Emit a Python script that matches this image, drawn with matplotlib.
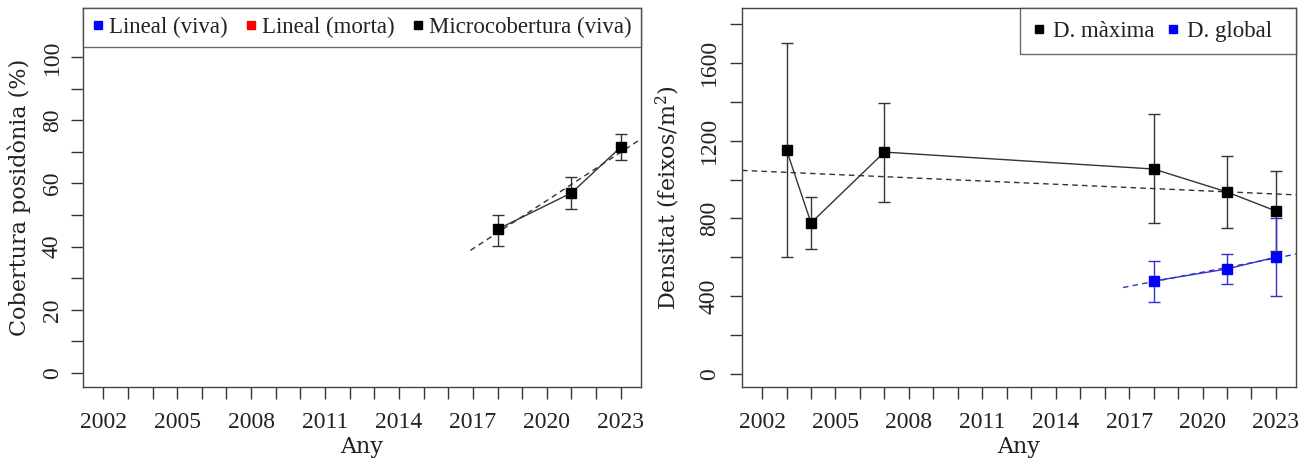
import numpy as np
import matplotlib.pyplot as plt
from matplotlib.lines import Line2D

plt.rcParams['mathtext.fontset'] = 'dejavuserif'

# eix x comú
anys = np.arange(2002, 2024)
etiquetes_any = [str(a) if (a - 2002) % 3 == 0 else '' for a in anys]

# Cobertura posidònia (%)
cob_any = [2018, 2021, 2023]
cob_micro = [45.5, 57, 71.5]
cob_micro_inf = [40.2, 52, 67.4]
cob_micro_sup = [50, 62, 75.6]

# Densitat (feixos/m2)
dmax_any = [2003, 2004, 2007, 2018, 2021, 2023]
dmax = [1152, 777, 1141, 1054, 936, 838]
dmax_inf = [602, 643, 884, 777, 751, 632]
dmax_sup = [1702, 910, 1393, 1337, 1121, 1044]

dglob_any = [2018, 2021, 2023]
dglob = [478, 540, 601]
dglob_inf = [370, 463, 401]
dglob_sup = [581, 617, 802]

XLIM = (2001.18, 2023.82)
TICKFONT = dict(family='Liberation Serif', size=17)
LABFONT = dict(family='DejaVu Serif', size=16)
LEGFONT = dict(family='Liberation Serif', size=16.5)


def serie(ax, x, y, lo, hi, col, col_lin, x_fit):
    x = np.array(x, dtype=float)
    y = np.array(y, dtype=float)
    err = [y - np.array(lo), np.array(hi) - y]
    ax.errorbar(x, y, yerr=err, fmt='none', ecolor=col_lin, elinewidth=1,
                capsize=4, capthick=1, zorder=2)
    ax.plot(x, y, color=col_lin, lw=1, zorder=2)
    a, b = np.polyfit(x, y, 1)
    xf = np.array(x_fit)
    ax.plot(xf, a * xf + b, color=col_lin, lw=1, ls=(0, (4, 3)), zorder=2)
    ax.plot(x, y, 's', color=col, ms=6.5, zorder=3)


def eixos(ax, yticks, ylabels, ylim):
    ax.set_xlim(XLIM)
    ax.set_ylim(ylim)
    ax.set_xticks(anys)
    ax.set_xticklabels(etiquetes_any, fontdict=TICKFONT)
    ax.set_yticks(yticks)
    ax.set_yticklabels(ylabels, fontdict=TICKFONT)
    for t in ax.get_yticklabels():
        t.set_rotation(90)
        t.set_rotation_mode('anchor')
        t.set_ha('center')
        t.set_va('bottom')
    ax.tick_params(direction='out', length=8.5, width=1, color='#333333',
                   labelcolor='#222222')
    ax.tick_params(axis='x', pad=9.5)
    ax.tick_params(axis='y', pad=6)
    for s in ax.spines.values():
        s.set_color('#444444')
        s.set_linewidth(1)
    ax.set_xlabel('Any', fontdict=LABFONT, labelpad=2, color='#222222')


fig = plt.figure(figsize=(13.12, 4.68), dpi=100)
W, H = 1312, 468

# --- panell esquerre ---
ax1 = fig.add_axes([83 / W, (H - 387) / H, (641 - 83) / W, (387 - 8) / H])
eixos(ax1, np.arange(0, 101, 10),
      [str(v) if v % 20 == 0 else '' for v in range(0, 101, 10)], (-4.4, 115.5))
serie(ax1, cob_any, cob_micro, cob_micro_inf, cob_micro_sup, 'black', '#333333',
      [min(cob_any) - 1.1, max(cob_any) + 1])
ax1.set_ylabel('Cobertura posidònia (%)', fontdict=LABFONT, labelpad=7.5, color='#222222')

h1 = [Line2D([], [], marker='s', ls='none', color=c, ms=5.5) for c in ['#0000ff', '#ff0000', 'black']]
leg1 = ax1.legend(h1, ['Lineal (viva)', 'Lineal (morta)', 'Microcobertura (viva)'],
                  loc='upper left', bbox_to_anchor=(0, 1, 1, 0), mode='expand', ncol=3,
                  prop=LEGFONT, frameon=True, fancybox=False, edgecolor='#444444',
                  borderaxespad=0, borderpad=0.4, handlelength=0.5, handletextpad=0.25,
                  columnspacing=0.5)
leg1.get_frame().set_linewidth(1)
for t in leg1.get_texts():
    t.set_color('#222222')

# --- panell dret ---
ax2 = fig.add_axes([742 / W, (H - 387) / H, (1296 - 742) / W, (387 - 8) / H])
eixos(ax2, np.arange(0, 1801, 200),
      [str(v) if v % 400 == 0 else '' for v in range(0, 1801, 200)], (-67, 1882))
ax2.tick_params(axis='y', pad=7.5)
serie(ax2, dmax_any, dmax, dmax_inf, dmax_sup, 'black', '#333333', list(XLIM))
serie(ax2, dglob_any, dglob, dglob_inf, dglob_sup, '#0000ff', '#3333cc',
      [min(dglob_any) - 1.25, max(dglob_any) + 1])
ax2.set_ylabel('Densitat (feixos/m$^2$)', fontdict=LABFONT, labelpad=12, color='#222222')

h2 = [Line2D([], [], marker='s', ls='none', color=c, ms=5.5) for c in ['black', '#0000ff']]
leg2 = ax2.legend(h2, ['D. màxima', 'D. global  '], loc='upper right', bbox_to_anchor=(1, 1),
                  ncol=2, prop=LEGFONT, frameon=True, fancybox=False, edgecolor='#444444',
                  borderaxespad=0, borderpad=0.55, handlelength=0.6, handletextpad=0.3,
                  columnspacing=0.5)
leg2.get_frame().set_linewidth(1)
for t in leg2.get_texts():
    t.set_color('#222222')

fig.savefig('out.png', dpi=100)
